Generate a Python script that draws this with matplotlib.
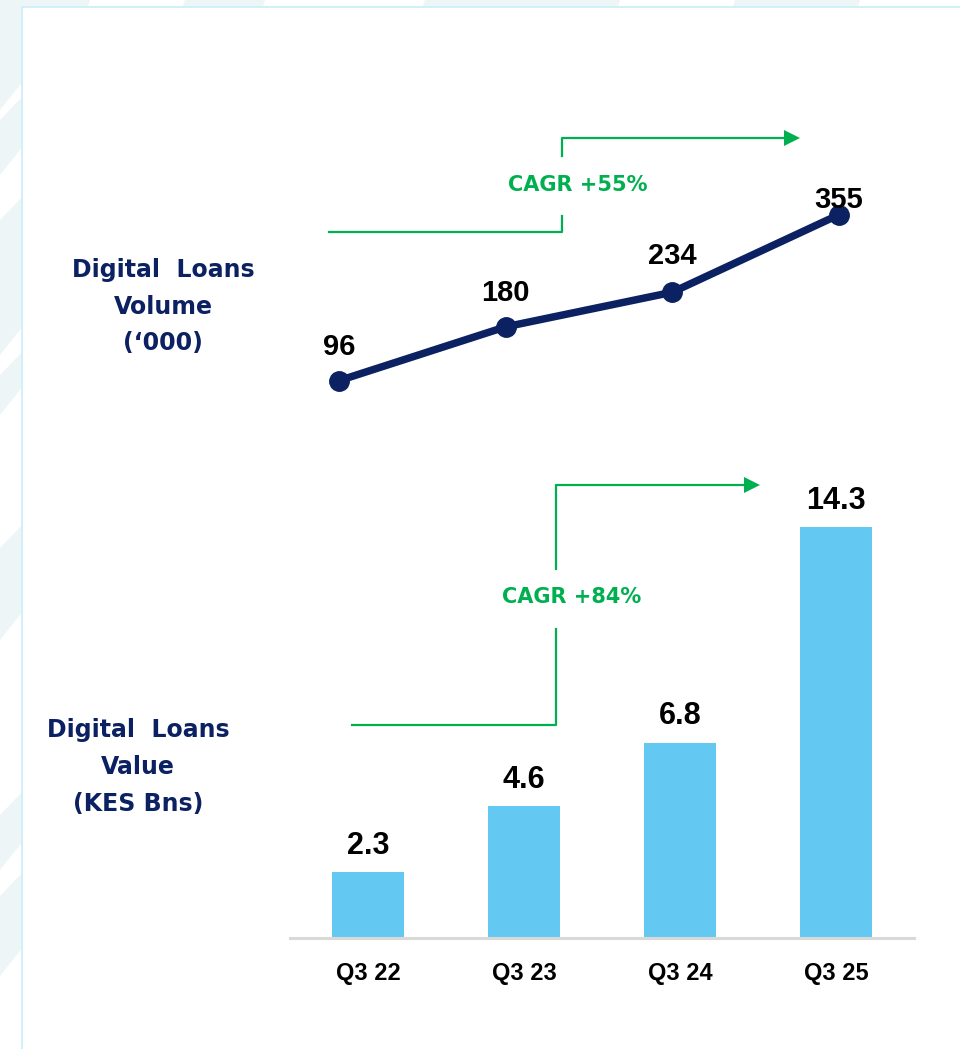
import matplotlib.pyplot as plt
from matplotlib.patches import Polygon, Rectangle
from matplotlib.lines import Line2D

W, H = 960, 1049

quarters = ['Q3 22', 'Q3 23', 'Q3 24', 'Q3 25']
loan_volume = [96, 180, 234, 355]
loan_value = [2.3, 4.6, 6.8, 14.3]
volume_cagr = 'CAGR +55%'
value_cagr = 'CAGR +84%'

navy = '#0b2161'
green = '#00b050'
bar_blue = '#63c9f2'


def fx(x):
    return x / W


def fy(y):
    return 1 - y / H


fig = plt.figure(figsize=(W / 100, H / 100), dpi=100)
fig.patch.set_facecolor('white')

# faint slanted stripes around the white panel
for x0, x1 in [(10, 90), (185, 265), (425, 620), (735, 860)]:
    fig.add_artist(Polygon([(fx(x0), fy(0)), (fx(x1), fy(0)),
                            (fx(x1 - 4), fy(12)), (fx(x0 - 4), fy(12))],
                           closed=True, transform=fig.transFigure,
                           facecolor='#eef5f6', edgecolor='none', zorder=-3))
for y0, y1 in [(0, 110), (120, 175), (220, 355), (375, 415), (548, 640), (815, 870), (896, 976)]:
    fig.add_artist(Polygon([(fx(0), fy(y1)), (fx(24), fy(y1 - 30)),
                            (fx(24), fy(y0 - 25)), (fx(0), fy(y0))],
                           closed=True, transform=fig.transFigure,
                           facecolor='#eef5f6', edgecolor='none', zorder=-3))
fig.add_artist(Rectangle((fx(22), fy(H + 10)), fx(W), fy(7) - fy(H + 10),
                         transform=fig.transFigure, facecolor='white',
                         edgecolor='#c9eefa', lw=1.2, zorder=-2))

# --- line chart: volume
ax1 = fig.add_axes([fx(256), fy(442), fx(922) - fx(256), fy(186) - fy(442)])
ax1.set_facecolor('none')
x = range(len(quarters))
ax1.plot(x, loan_volume, color=navy, lw=5.4, marker='o', ms=14,
         solid_capstyle='round', zorder=3)
label_lift = [18.5, 18.5, 20, 5]
for i, v in enumerate(loan_volume):
    ax1.annotate(str(v), (i, v), xytext=(0, label_lift[i]), textcoords='offset points',
                 ha='center', va='baseline', fontsize=21, fontweight='bold',
                 family='Liberation Sans', color='black', zorder=4)
ax1.set_xlim(-0.5, 3.5)
ax1.set_ylim(0, 400)
ax1.axis('off')

# --- bar chart: value
ax2 = fig.add_axes([fx(290), fy(938), fx(914) - fx(290), fy(478) - fy(938)])
ax2.set_facecolor('none')
bars = ax2.bar(x, loan_value, width=0.46, color=bar_blue, zorder=2)
for b, v in zip(bars, loan_value):
    ax2.annotate(f'{v:.1f}', (b.get_x() + b.get_width() / 2, v), xytext=(0, 13),
                 textcoords='offset points', ha='center', va='baseline',
                 fontsize=22, fontweight='bold', family='Liberation Sans')
ax2.set_xlim(-0.5, 3.5)
ax2.set_ylim(0, 16)
ax2.set_xticks(list(x))
ax2.set_xticklabels(quarters, fontsize=17, fontweight='bold', family='Liberation Sans')
ax2.tick_params(axis='x', length=0, pad=17)
ax2.set_yticks([])
for s in ['top', 'right', 'left']:
    ax2.spines[s].set_visible(False)
ax2.spines['bottom'].set_color('#d9d9d9')
ax2.spines['bottom'].set_linewidth(2.2)

# --- left side titles
for lines, cx, ys in [(['Digital  Loans', 'Volume', '(\u2018000)'], 163, [277, 314, 350]),
                      (['Digital  Loans', 'Value', '(KES Bns)'], 138, [737, 774, 811])]:
    for t, yy in zip(lines, ys):
        fig.text(fx(cx), fy(yy), t, ha='center', va='baseline', fontsize=17,
                 fontweight='bold', family='DejaVu Sans', color=navy)


# --- CAGR step arrows
def step_arrow(x_start, x_mid, x_tip, y_low, y_high, gap_low, gap_high, label, ty):
    segs = [[(x_start, y_low), (x_mid, y_low), (x_mid, gap_low)],
            [(x_mid, gap_high), (x_mid, y_high), (x_tip - 14, y_high)]]
    for seg in segs:
        fig.add_artist(Line2D([fx(p[0]) for p in seg], [fy(p[1]) for p in seg],
                              color=green, lw=1.6, transform=fig.transFigure))
    fig.add_artist(Polygon([(fx(x_tip), fy(y_high)), (fx(x_tip - 16), fy(y_high - 8)),
                            (fx(x_tip - 16), fy(y_high + 8))], closed=True,
                           transform=fig.transFigure, facecolor=green, edgecolor='none'))
    fig.text(fx(x_mid + 16), fy(ty), label, ha='center', va='baseline', fontsize=15,
             fontweight='bold', family='DejaVu Sans', color=green)


step_arrow(329, 562, 800, 232, 138, 216, 156, volume_cagr, 191)
step_arrow(352, 556, 760, 725, 485, 629, 569, value_cagr, 603)

fig.savefig('out.png', dpi=100)
